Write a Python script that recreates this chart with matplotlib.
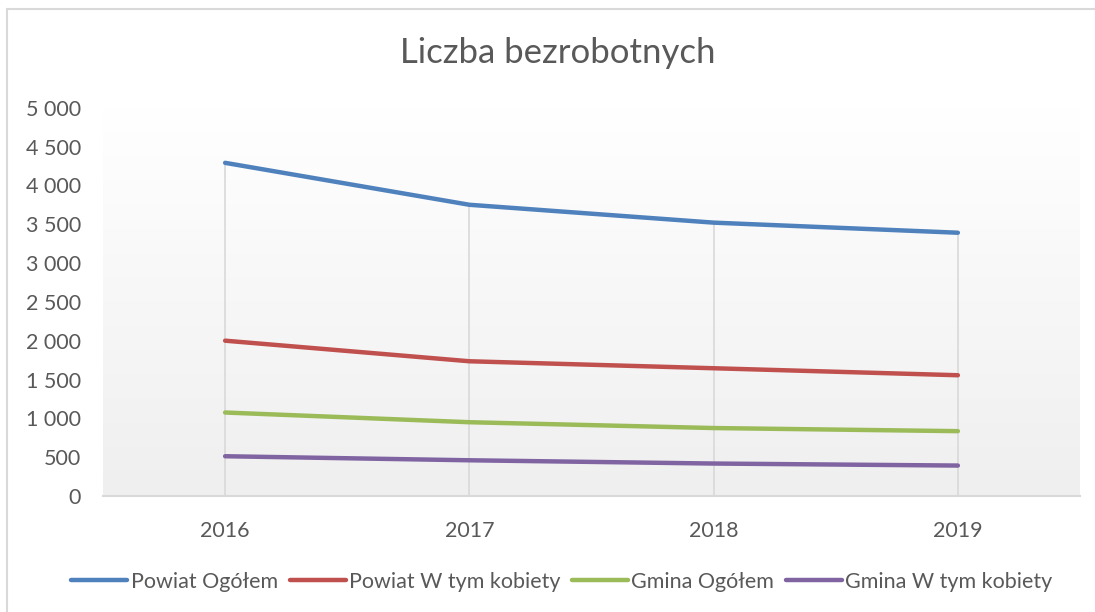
import matplotlib.pyplot as plt
import numpy as np
from matplotlib.patches import Rectangle
from matplotlib.ticker import FuncFormatter, MultipleLocator

plt.rcParams['font.family'] = ['Lato', 'DejaVu Sans']

lata = ['2016', '2017', '2018', '2019']
powiat_ogolem = [4290, 3750, 3520, 3390]
powiat_kobiety = [2000, 1735, 1645, 1555]
gmina_ogolem = [1075, 950, 875, 835]
gmina_kobiety = [512, 460, 418, 392]

serie = [
    ('Powiat Ogółem', powiat_ogolem, '#4F81BD'),
    ('Powiat W tym kobiety', powiat_kobiety, '#C0504D'),
    ('Gmina Ogółem', gmina_ogolem, '#9BBB59'),
    ('Gmina W tym kobiety', gmina_kobiety, '#8064A2'),
]

szary = '#595959'

fig = plt.figure(figsize=(10.95, 6.12), dpi=100)
fig.patch.set_facecolor('white')
ax = fig.add_axes([103 / 1095, 1 - 496 / 612, (1080 - 103) / 1095, (496 - 107.7) / 612])

x = np.arange(len(lata))
ax.set_xlim(-0.5, len(lata) - 0.5)
ax.set_ylim(0, 5000)

# tlo z gradientem jak w Excelu
grad = np.linspace(0, 1, 256).reshape(-1, 1)
ax.imshow(grad, cmap=plt.matplotlib.colors.LinearSegmentedColormap.from_list('g', ['#ffffff', '#efefef']),
          extent=[-0.5, len(lata) - 0.5, 0, 5000], aspect='auto', origin='upper', zorder=0)

# linie opadania
maks = np.max([s[1] for s in serie], axis=0)
ax.vlines(x, 0, maks, color='#d9d9d9', lw=1.2, zorder=1)

for nazwa, wartosci, kolor in serie:
    ax.plot(x, wartosci, color=kolor, lw=3.2, label=nazwa, solid_capstyle='round', zorder=3)

for s in ['top', 'right', 'left']:
    ax.spines[s].set_visible(False)
ax.spines['bottom'].set_color('#d9d9d9')
ax.spines['bottom'].set_linewidth(1.5)

ax.set_xticks(x)
ax.set_xticklabels(lata)
ax.yaxis.set_major_locator(MultipleLocator(500))
ax.yaxis.set_major_formatter(FuncFormatter(lambda v, p: f'{int(v):,}'.replace(',', ' ')))
ax.tick_params(axis='both', length=0, labelsize=15.5, colors=szary)
ax.tick_params(axis='x', pad=18)
ax.tick_params(axis='y', pad=16)

fig.text(558 / 1095, 1 - 53 / 612, 'Liczba bezrobotnych', ha='center', va='center',
         fontsize=25, color=szary)

fig.legend(loc='center', bbox_to_anchor=(562 / 1095, 1 - 582 / 612), ncol=4, frameon=False,
           fontsize=15.5, handlelength=2.6, handletextpad=0.15, columnspacing=0.55,
           labelcolor=szary)

# ramka wykresu
fig.patches.append(Rectangle((7 / 1095, -0.1), 1.2, 1 - 9 / 612 + 0.1, transform=fig.transFigure,
                             fill=False, edgecolor='#d9d9d9', lw=1.5))

fig.savefig('out.png', dpi=100)
